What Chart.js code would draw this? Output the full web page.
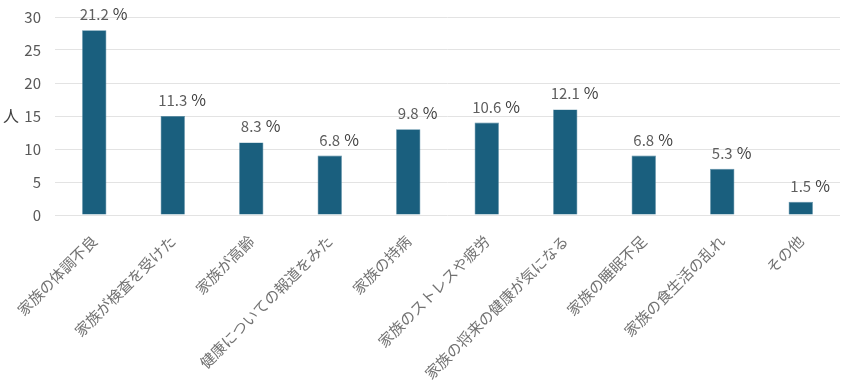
<!DOCTYPE html>
<html lang="ja">
<head>
<meta charset="utf-8">
<script src="https://cdn.jsdelivr.net/npm/chart.js@4"></script>
<style>
  html, body { margin: 0; padding: 0; background: #fff; }
  #wrap { width: 850px; height: 386px; }
</style>
</head>
<body>
<div id="wrap"><canvas id="chart" width="850" height="386"></canvas></div>
<script>
const categories = [
  '家族の体調不良', '家族が検査を受けた', '家族が高齢', '健康についての報道をみた', '家族の持病',
  '家族のストレスや疲労', '家族の将来の健康が気になる', '家族の睡眠不足', '家族の食生活の乱れ', 'その他'
];
const counts = [28, 15, 11, 9, 13, 14, 16, 9, 7, 2];
const percents = ['21.2', '11.3', '8.3', '6.8', '9.8', '10.6', '12.1', '6.8', '5.3', '1.5'];
const yTicks = [0, 5, 10, 15, 20, 25, 30];
const yUnit = '人';

const FONT = '"Noto Sans CJK JP", "Noto Sans", sans-serif';

// percentage labels above bars: number centred, " %" appended
const pctLabels = {
  id: 'pctLabels',
  afterDatasetsDraw(c) {
    const ctx = c.ctx;
    const meta = c.getDatasetMeta(0);
    ctx.save();
    ctx.textBaseline = 'alphabetic';
    meta.data.forEach((bar, i) => {
      const y = bar.y - 10;
      ctx.font = '15px ' + FONT;
      ctx.fillStyle = '#5f5f5f';
      ctx.textAlign = 'center';
      ctx.fillText(percents[i], bar.x, y);
      const w = ctx.measureText(percents[i]).width;
      ctx.font = '16px ' + FONT;
      ctx.fillStyle = '#404040';
      ctx.textAlign = 'left';
      ctx.fillText('%', bar.x + w / 2 + 4, y);
    });
    // axis unit next to the 15 tick
    const ys = c.scales.y;
    ctx.font = '16px ' + FONT;
    ctx.fillStyle = '#404040';
    ctx.textAlign = 'center';
    ctx.textBaseline = 'middle';
    ctx.fillText(yUnit, 11, ys.getPixelForValue(15));
    ctx.restore();
  }
};

new Chart(document.getElementById('chart'), {
  type: 'bar',
  data: {
    labels: categories,
    datasets: [{
      data: counts,
      backgroundColor: '#1a5f7e',
      borderColor: '#4f86a0',
      borderWidth: 0.6,
      barPercentage: 0.62,
      categoryPercentage: 0.5
    }]
  },
  options: {
    responsive: false,
    animation: false,
    devicePixelRatio: 1,
    layout: { padding: { top: 17, right: 10, left: 0, bottom: 0 } },
    plugins: {
      legend: { display: false },
      tooltip: { enabled: false }
    },
    scales: {
      x: {
        grid: { display: false },
        border: { display: false },
        ticks: {
          color: '#727272',
          font: { family: FONT, size: 15 },
          minRotation: 45,
          maxRotation: 45,
          padding: 9,
          autoSkip: false
        },
        afterFit: s => { s.height = 171; }
      },
      y: {
        min: 0,
        max: 30,
        afterBuildTicks: s => { s.ticks = yTicks.map(v => ({ value: v })); },
        grid: { color: '#e3e3e3', lineWidth: 1, drawTicks: false },
        border: { display: false },
        ticks: {
          color: '#595959',
          font: { family: FONT, size: 15 },
          padding: 14
        },
        afterFit: s => { s.width = 55; s.paddingTop = 0; s.paddingBottom = 0; }
      }
    }
  },
  plugins: [pctLabels]
});
</script>
</body>
</html>
